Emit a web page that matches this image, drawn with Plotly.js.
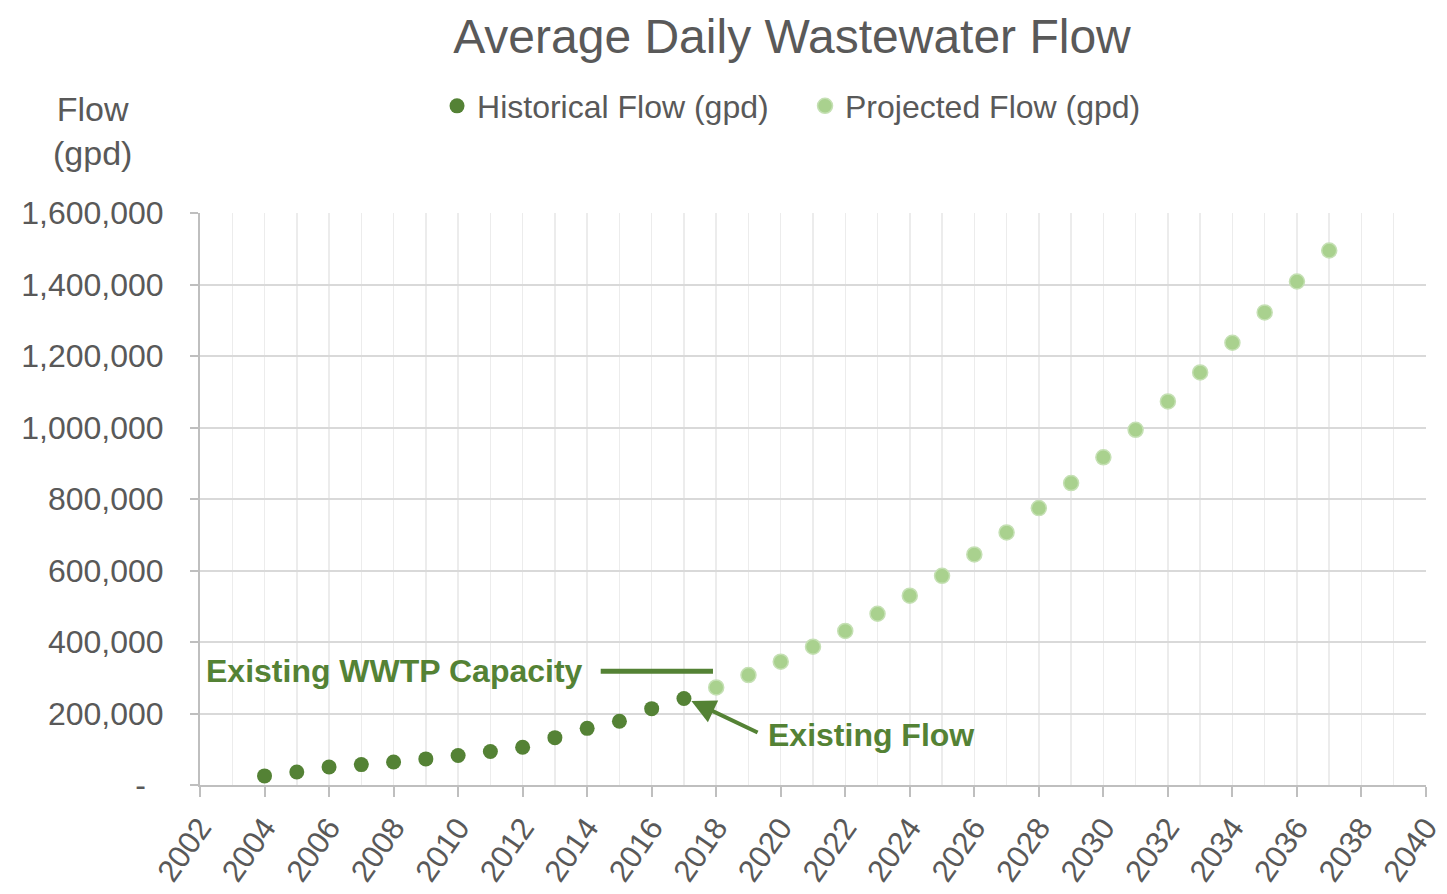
<!DOCTYPE html>
<html>
<head>
<meta charset="utf-8">
<script src="https://cdn.plot.ly/plotly-3.0.1.min.js"></script>
<style>html,body{margin:0;padding:0;background:#fff;}#chart{width:1447px;height:894px;}</style>
</head>
<body>
<div id="chart"></div>
<script>
// Data
const historicalYears = [2004,2005,2006,2007,2008,2009,2010,2011,2012,2013,2014,2015,2016,2017];
const historicalFlow = [25500,36500,50500,57000,64500,73000,82500,93500,105500,132500,158500,178500,213500,242000];
const projectedYears = [2018,2019,2020,2021,2022,2023,2024,2025,2026,2027,2028,2029,2030,2031,2032,2033,2034,2035,2036,2037];
const projectedFlow = [273000,307500,345000,387000,431000,479000,529500,585000,645000,706500,774500,844500,916500,993500,1073000,1154000,1237000,1322000,1408500,1495000];
const yTickVals = [0,200000,400000,600000,800000,1000000,1200000,1400000,1600000];
const yTickText = ['-\u00a0\u00a0','200,000','400,000','600,000','800,000','1,000,000','1,200,000','1,400,000','1,600,000'];
const capacityValue = 318000;
const capacityLineYears = [2014.42, 2017.9];
const existingFlowYear = 2017;

const FONT = '"Liberation Sans", Arial, sans-serif';
const GRAY = '#595959';
const DARK = '#548235';
const LIGHT = '#a9d18e';

const traces = [
  {
    x: historicalYears, y: historicalFlow, type: 'scatter', mode: 'markers',
    name: 'Historical Flow (gpd)',
    marker: {color: DARK, size: 15, line: {width: 0}}
  },
  {
    x: projectedYears, y: projectedFlow, type: 'scatter', mode: 'markers',
    name: 'Projected Flow (gpd)',
    marker: {color: LIGHT, size: 15, line: {color: '#c5e0b4', width: 1.5}}
  }
];

const layout = {
  width: 1447, height: 894,
  margin: {l: 200, r: 21, t: 213, b: 109},
  paper_bgcolor: '#fff', plot_bgcolor: '#fff',
  font: {family: FONT, color: GRAY, size: 32},
  title: {
    text: 'Average Daily Wastewater Flow',
    font: {family: FONT, size: 48, color: GRAY},
    x: 792/1447, xref: 'container', xanchor: 'center',
    y: 1 - 36/894, yref: 'container', yanchor: 'middle'
  },
  showlegend: true,
  legend: {
    orientation: 'h', x: 0.4935, xanchor: 'center', y: 1.187, yanchor: 'middle',
    font: {family: FONT, size: 32, color: GRAY},
    entrywidth: 323, entrywidthmode: 'pixels',
    itemsizing: 'trace', bgcolor: 'rgba(0,0,0,0)', traceorder: 'normal'
  },
  xaxis: {
    range: [2002, 2040], dtick: 2, tick0: 2002,
    tickangle: -55,
    tickfont: {family: FONT, size: 31, color: GRAY},
    showline: true, linecolor: '#bfbfbf', linewidth: 2,
    ticks: 'outside', ticklen: 10, tickcolor: '#bfbfbf', tickwidth: 2,
    showgrid: true, gridcolor: '#ececec', gridwidth: 1.5,
    minor: {dtick: 1, showgrid: true, gridcolor: '#ececec', gridwidth: 1.5, ticks: ''},
    zeroline: false, fixedrange: true
  },
  yaxis: {
    range: [0, 1600000],
    tickvals: yTickVals, ticktext: yTickText,
    tickfont: {family: FONT, size: 32, color: GRAY},
    ticklabelstandoff: 20,
    showline: true, linecolor: '#bfbfbf', linewidth: 2,
    ticks: 'outside', ticklen: 8, tickcolor: '#bfbfbf', tickwidth: 2,
    showgrid: true, gridcolor: '#d9d9d9', gridwidth: 2,
    zeroline: false, fixedrange: true
  },
  shapes: [
    {type: 'line', xref: 'x', yref: 'y', x0: capacityLineYears[0], x1: capacityLineYears[1],
     y0: capacityValue, y1: capacityValue, line: {color: DARK, width: 5}}
  ],
  annotations: [
    {xref: 'paper', yref: 'paper', x: -0.088, y: 1.143, xanchor: 'center', yanchor: 'middle',
     text: 'Flow<br>(gpd)', showarrow: false, align: 'center',
     font: {family: FONT, size: 34, color: GRAY}},
    {xref: 'x', yref: 'y', x: 2002.12, y: capacityValue, xanchor: 'left', yanchor: 'middle',
     text: '<b>Existing WWTP Capacity</b>', showarrow: false,
     font: {family: FONT, size: 32, color: DARK}},
    {xref: 'x', yref: 'y', x: 2019.55, y: 140000, xanchor: 'left', yanchor: 'middle',
     text: '<b>Existing Flow</b>', showarrow: false,
     font: {family: FONT, size: 32, color: DARK}},
    {xref: 'x', yref: 'y', x: existingFlowYear + 0.23, y: 235000,
     axref: 'x', ayref: 'y', ax: 2019.33, ay: 145000,
     text: '', showarrow: true, arrowhead: 2, arrowsize: 1.2, arrowwidth: 4, arrowcolor: DARK,
     standoff: 0, startstandoff: 0}
  ]
};

Plotly.newPlot('chart', traces, layout, {displayModeBar: false, staticPlot: true});
</script>
</body>
</html>
